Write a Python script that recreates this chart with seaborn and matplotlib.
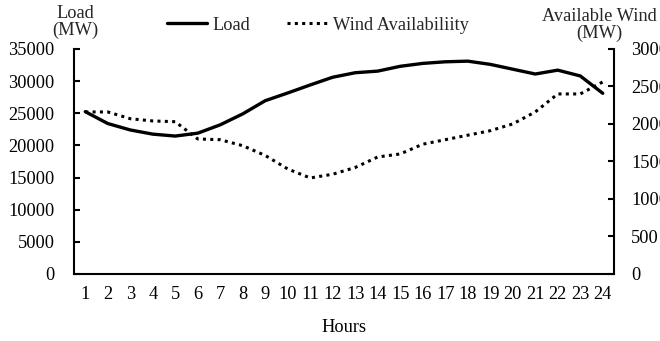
import matplotlib
matplotlib.use("Agg")
import matplotlib.pyplot as plt
import seaborn as sns

hours = list(range(1, 25))
load_mw = [25250, 23400, 22400, 21750, 21450, 21900, 23200, 24900,
           26950, 28150, 29400, 30600, 31300, 31550, 32300, 32750,
           33000, 33100, 32600, 31850, 31100, 31700, 30800, 28100]
wind_mw = [2160, 2160, 2070, 2040, 2030, 1800, 1790, 1710,
           1580, 1400, 1280, 1330, 1420, 1560, 1600, 1730,
           1790, 1850, 1910, 2000, 2160, 2400, 2400, 2560]
left_ticks = [0, 5000, 10000, 15000, 20000, 25000, 30000, 35000]
right_ticks = [0, 500, 1000, 1500, 2000, 2500, 3000]

sns.set_theme(style="white")
plt.rcParams["font.family"] = ["Liberation Serif", "DejaVu Serif"]
fs = 13.2

fig = plt.figure(figsize=(6.6, 3.41), dpi=100)
ax = fig.add_axes([0.1121, 0.1965, 0.8182, 0.66])
ax2 = ax.twinx()

sns.lineplot(x=hours, y=load_mw, ax=ax, color="black", linewidth=2.4,
             label="Load", legend=False)
sns.lineplot(x=hours, y=wind_mw, ax=ax2, color="black", linewidth=2.2,
             linestyle=(0, (1, 1.4)), label="Wind Availabiliity", legend=False)

ax.set_xlim(0.5, 24.5)
ax.set_ylim(0, 35000)
ax2.set_ylim(0, 3000)
ax.set_xticks(hours)
ax.set_yticks(left_ticks)
ax2.set_yticks(right_ticks)

for a in (ax, ax2):
    a.spines["top"].set_visible(False)
    for s in a.spines.values():
        s.set_linewidth(1.5)
        s.set_color("black")
ax.spines["right"].set_visible(False)
ax2.spines["left"].set_visible(False)
ax2.spines["bottom"].set_visible(False)

ax.tick_params(axis="y", direction="in", length=4.5, width=1.5, pad=14,
               labelsize=fs, colors="black")
ax2.tick_params(axis="y", direction="in", length=4.5, width=1.5, pad=12.5,
                labelsize=fs, colors="black")
ax.tick_params(axis="x", length=0, pad=9, labelsize=fs, colors="black")

ax.set_xlabel("Hours", fontsize=fs, labelpad=11, color="black")
ax.set_ylabel("")
ax2.set_ylabel("")

fig.text(75 / 660, 1 - 22 / 341, "Load\n(MW)", ha="center", va="center",
         fontsize=fs, linespacing=1.0)
fig.text(599 / 660, 1 - 25 / 341, "Available Wind\n(MW)", ha="center",
         va="center", fontsize=fs, linespacing=1.0)

h1, l1 = ax.get_legend_handles_labels()
h2, l2 = ax2.get_legend_handles_labels()
fig.legend(h1 + h2, l1 + l2, loc="center", bbox_to_anchor=(318 / 660, 1 - 25 / 341),
           ncol=2, frameon=False, fontsize=fs, handlelength=2.2,
           handletextpad=0.3, columnspacing=2.0)

fig.savefig("out.png", dpi=100)
